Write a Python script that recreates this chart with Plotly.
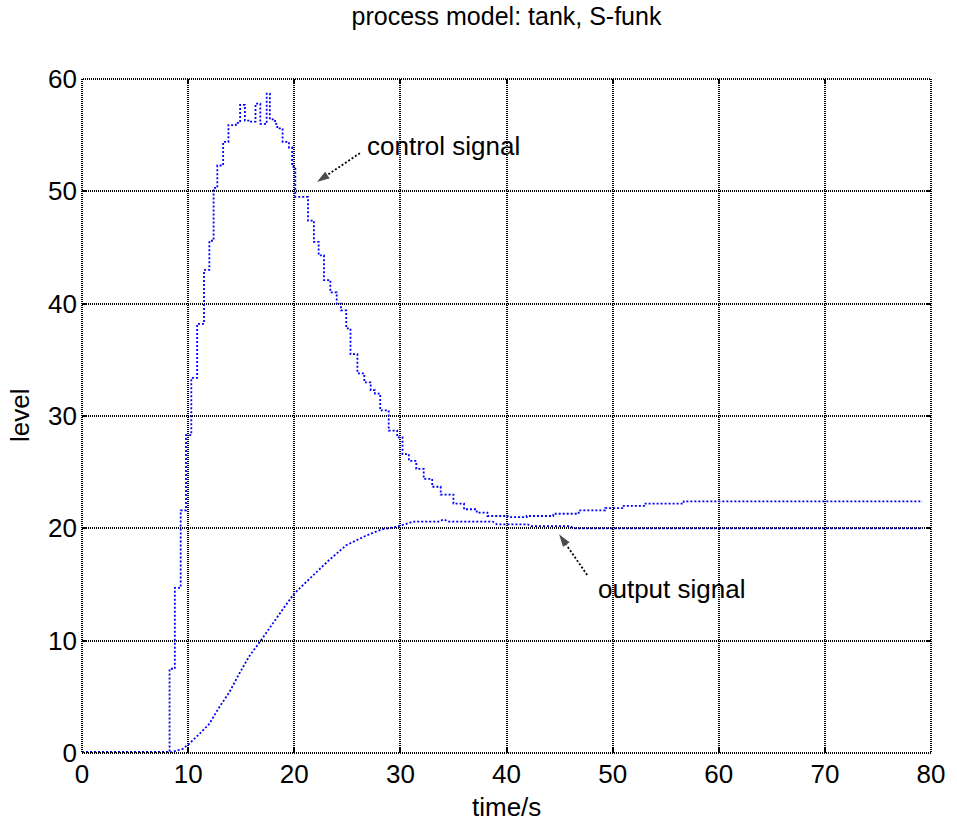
import plotly.graph_objects as go

# ---- data ----
ctrl_t = [0, 8.25, 8.75, 9.3, 9.8, 10.3, 10.85, 11.5, 12.0, 12.4, 12.75, 13.3, 13.8,
          14.5, 14.9, 15.35, 15.8, 16.35, 16.8, 17.4, 17.7, 18.2, 18.4, 18.9, 19.5,
          19.8, 20.1, 21.3, 21.85, 22.3, 22.8, 23.4, 24.0, 24.4, 24.9, 25.3, 25.95,
          26.6, 27.2, 27.6, 28.1, 28.9, 29.7, 30.2, 30.8, 31.5, 32.2, 33.0, 33.8,
          35.0, 36.0, 37.2, 38.2, 40.1, 41.9, 44.4, 46.8, 49.3, 50.9, 53.1, 56.7, 79.2]
ctrl_v = [0.1, 7.5, 14.7, 21.6, 28.3, 33.4, 38.2, 43.0, 45.6, 50.3, 52.3, 54.4, 55.9,
          56.1, 57.7, 56.3, 56.2, 57.8, 56.0, 58.7, 56.4, 56.0, 55.6, 54.4, 53.9,
          52.2, 49.5, 47.4, 45.5, 44.3, 42.1, 41.0, 40.0, 39.4, 37.8, 35.5, 33.8,
          33.0, 32.3, 32.0, 30.5, 28.7, 28.1, 26.6, 26.0, 25.3, 24.4, 23.7, 23.0,
          22.2, 21.7, 21.4, 21.1, 21.0, 21.1, 21.3, 21.6, 21.8, 22.0, 22.2, 22.4, 22.4]

out_t = [0, 8.3, 9.5, 10.07, 11.07, 12.0, 12.95, 13.88, 14.81, 15.75, 16.84, 18.0,
         19.0, 20.0, 21.36, 23.2, 24.9, 26.65, 28.2, 29.46, 30.4, 31.2, 33.6, 34.1,
         34.5, 38.7, 39.1, 42.0, 42.3, 46.0, 46.3, 79.2]
out_v = [0.05, 0.05, 0.37, 0.8, 1.7, 2.6, 4.1, 5.4, 7.05, 8.6, 10.0, 11.6,
         12.9, 14.2, 15.4, 17.1, 18.5, 19.3, 19.9, 20.1, 20.35, 20.6, 20.6, 20.8,
         20.6, 20.6, 20.35, 20.35, 20.2, 20.2, 20.0, 20.0]

x_ticks = [0, 10, 20, 30, 40, 50, 60, 70, 80]
y_ticks = [0, 10, 20, 30, 40, 50, 60]

title_text = "process model: tank, S-funk"
x_label = "time/s"
y_label = "level"

ctrl_label = "control signal"
ctrl_label_pos = (26.7, 54.05)
ctrl_arrow = ([26.19, 22.04], [53.4, 50.77])
out_label = "output signal"
out_label_pos = (48.46, 14.6)
out_arrow = ([47.6, 44.88], [15.85, 19.56])

FONT = "Liberation Sans, Arial, sans-serif"
FS = 26
BLUE = "#0000ff"
DOT = "2px,2px"
GRID_DOT = "1px,1px"

fig = go.Figure()
fig.add_trace(go.Scatter(x=ctrl_t, y=ctrl_v, mode="lines", line_shape="hv",
                         line=dict(color=BLUE, width=1.8, dash=DOT), hoverinfo="skip"))
fig.add_trace(go.Scatter(x=out_t, y=out_v, mode="lines",
                         line=dict(color=BLUE, width=1.8, dash=DOT), hoverinfo="skip"))

for ax_xy in (ctrl_arrow, out_arrow):
    fig.add_trace(go.Scatter(x=ax_xy[0], y=ax_xy[1], mode="lines+markers",
                             line=dict(color="black", width=1.8, dash=DOT),
                             marker=dict(symbol=["circle", "arrow"], size=[0, 15],
                                         angleref="previous", color="black"),
                             hoverinfo="skip"))

fig.add_annotation(x=ctrl_label_pos[0], y=ctrl_label_pos[1], text=ctrl_label,
                   showarrow=False, xanchor="left", yanchor="middle",
                   font=dict(family=FONT, size=FS, color="black"))
fig.add_annotation(x=out_label_pos[0], y=out_label_pos[1], text=out_label,
                   showarrow=False, xanchor="left", yanchor="middle",
                   font=dict(family=FONT, size=FS, color="black"))

# axis titles
fig.add_annotation(xref="paper", yref="paper", x=0.5, y=0, yshift=-54,
                   text=x_label, showarrow=False, xanchor="center", yanchor="middle",
                   font=dict(family=FONT, size=FS, color="black"))
fig.add_annotation(xref="paper", yref="paper", x=0, y=0.5, xshift=-62,
                   text=y_label, showarrow=False, xanchor="center", yanchor="middle",
                   textangle=-90, font=dict(family=FONT, size=FS, color="black"))

# dotted box
fig.add_shape(type="rect", xref="paper", yref="paper", x0=0, y0=0, x1=1, y1=1,
              line=dict(color="black", width=2, dash=GRID_DOT), layer="above")

axis_common = dict(showgrid=True, gridcolor="black", gridwidth=2, griddash=GRID_DOT,
                   zeroline=False, showline=False, ticks="inside", ticklen=5,
                   tickwidth=2, tickcolor="black", mirror="ticks",
                   tickfont=dict(family=FONT, size=FS, color="black"))

fig.update_xaxes(range=[0, 80], tickvals=x_ticks, ticktext=[str(v) for v in x_ticks],
                 ticklabelstandoff=3, **axis_common)
fig.update_yaxes(range=[0, 60], tickvals=y_ticks, ticktext=[str(v) for v in y_ticks],
                 ticklabelstandoff=4, **axis_common)

fig.update_layout(
    width=957, height=823,
    margin=dict(l=82, r=15, t=79, b=70),
    paper_bgcolor="white", plot_bgcolor="white",
    showlegend=False, hovermode=False,
    title=dict(text=title_text, x=0.5, xref="paper", xanchor="center",
               y=1 - 16 / 823, yref="container", yanchor="middle",
               font=dict(family=FONT, size=FS - 1, color="black")),
)

fig.write_html("out.html")
